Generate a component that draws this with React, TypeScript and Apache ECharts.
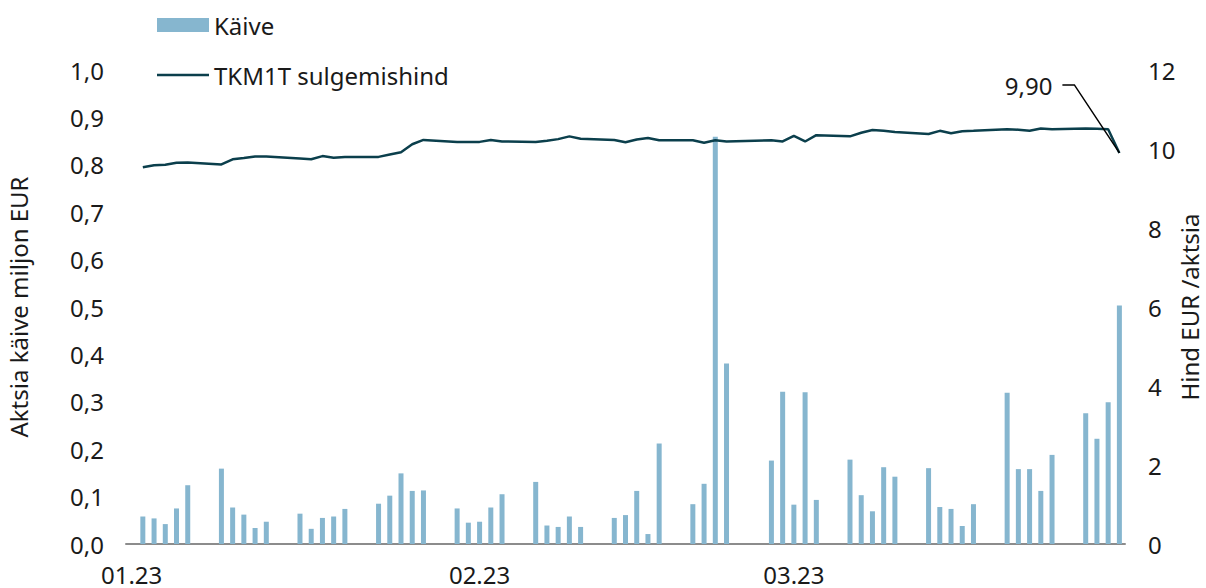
import React, { useEffect, useRef } from "react";
import * as echarts from "echarts";

const tradingDays = [
  "2023-01-02", "2023-01-03", "2023-01-04", "2023-01-05", "2023-01-06",
  "2023-01-09", "2023-01-10", "2023-01-11", "2023-01-12", "2023-01-13",
  "2023-01-16", "2023-01-17", "2023-01-18", "2023-01-19", "2023-01-20",
  "2023-01-23", "2023-01-24", "2023-01-25", "2023-01-26", "2023-01-27",
  "2023-01-30", "2023-01-31", "2023-02-01", "2023-02-02", "2023-02-03",
  "2023-02-06", "2023-02-07", "2023-02-08", "2023-02-09", "2023-02-10",
  "2023-02-13", "2023-02-14", "2023-02-15", "2023-02-16", "2023-02-17",
  "2023-02-20", "2023-02-21", "2023-02-22", "2023-02-23",
  "2023-02-27", "2023-02-28", "2023-03-01", "2023-03-02", "2023-03-03",
  "2023-03-06", "2023-03-07", "2023-03-08", "2023-03-09", "2023-03-10",
  "2023-03-13", "2023-03-14", "2023-03-15", "2023-03-16", "2023-03-17",
  "2023-03-20", "2023-03-21", "2023-03-22", "2023-03-23", "2023-03-24",
  "2023-03-27", "2023-03-28", "2023-03-29", "2023-03-30",
];

// Käive, miljon EUR
const turnover = [
  0.058, 0.054, 0.042, 0.075, 0.124,
  0.159, 0.077, 0.062, 0.034, 0.047,
  0.064, 0.032, 0.055, 0.058, 0.074,
  0.085, 0.102, 0.149, 0.112, 0.113,
  0.075, 0.045, 0.047, 0.077, 0.105,
  0.131, 0.039, 0.036, 0.058, 0.036,
  0.055, 0.061, 0.112, 0.021, 0.212,
  0.084, 0.127, 0.859, 0.381,
  0.176, 0.321, 0.083, 0.320, 0.093,
  0.178, 0.103, 0.069, 0.162, 0.142,
  0.160, 0.078, 0.074, 0.038, 0.084,
  0.319, 0.158, 0.158, 0.112, 0.188,
  0.276, 0.222, 0.299, 0.503,
];

// TKM1T sulgemishind, EUR
const closePrice = [
  9.54, 9.59, 9.60, 9.65, 9.66,
  9.61, 9.74, 9.77, 9.81, 9.81,
  9.76, 9.74, 9.82, 9.78, 9.80,
  9.80, 9.86, 9.92, 10.12, 10.23,
  10.18, 10.18, 10.18, 10.23, 10.19,
  10.18, 10.21, 10.25, 10.32, 10.26,
  10.23, 10.17, 10.24, 10.28, 10.22,
  10.22, 10.16, 10.22, 10.19,
  10.22, 10.19, 10.33, 10.19, 10.35,
  10.32, 10.41, 10.48, 10.46, 10.43,
  10.38, 10.46, 10.40, 10.45, 10.46,
  10.50, 10.49, 10.46, 10.52, 10.50,
  10.52, 10.51, 10.50, 9.90,
];

const axisStart = "2023-01-01";
const axisEnd = "2023-03-30";
const lastPriceLabel = "9,90";
const barName = "Käive";
const lineName = "TKM1T sulgemishind";

const FONT = "Noto Sans";
const TEXT = "#1a1a1a";
const BAR_COLOR = "#86b6cf";
const LINE_COLOR = "#0b3f4c";

function buildCalendar(start: string, end: string): string[] {
  const out: string[] = [];
  const [sy, sm, sd] = start.split("-").map(Number);
  const [ey, em, ed] = end.split("-").map(Number);
  const e = Date.UTC(ey, em - 1, ed);
  for (let t = Date.UTC(sy, sm - 1, sd); t <= e; t += 86400000) {
    out.push(new Date(t).toISOString().slice(0, 10));
  }
  return out;
}

export default function App() {
  const ref = useRef<HTMLDivElement>(null);
  useEffect(() => {
    document.body.style.margin = "0";
    document.body.style.overflow = "hidden";
    const chart = echarts.init(ref.current!, null, { renderer: "svg" });
    const calendar = buildCalendar(axisStart, axisEnd);
    const idx = new Map<string, number>(tradingDays.map((d, i) => [d, i]));
    const barData = calendar.map((d) => (idx.has(d) ? turnover[idx.get(d)!] : null));
    const lineData = calendar.map((d) => (idx.has(d) ? closePrice[idx.get(d)!] : null));

    const legendText = { fontFamily: FONT, fontSize: 24, color: TEXT };

    chart.setOption({
      animation: false,
      textStyle: { fontFamily: FONT, color: TEXT },
      grid: {
        left: 126,
        right: 81,
        top: 70,
        bottom: 44,
        containLabel: false,
        outerBoundsMode: "none",
      },
      legend: [
        {
          left: 152,
          top: 8,
          itemWidth: 52,
          itemHeight: 14,
          textStyle: legendText,
          data: [{ name: barName, icon: "rect" }],
        },
        {
          left: 152,
          top: 58,
          itemWidth: 52,
          itemHeight: 2.5,
          textStyle: legendText,
          data: [{ name: lineName, icon: "rect", itemStyle: { color: LINE_COLOR } }],
        },
      ],
      xAxis: {
        type: "category",
        data: calendar,
        boundaryGap: true,
        axisLine: { show: true, lineStyle: { color: "#8c8c8c", width: 2 } },
        axisTick: { show: false },
        splitLine: { show: false },
        axisLabel: {
          interval: (_i: number, val: string) => val.endsWith("-01"),
          formatter: (val: string) => val.slice(5, 7) + "." + val.slice(2, 4),
          fontFamily: FONT,
          fontSize: 24,
          color: TEXT,
          margin: 18,
        },
      },
      yAxis: [
        {
          type: "value",
          min: 0,
          max: 1,
          interval: 0.1,
          name: "Aktsia käive miljon EUR",
          nameLocation: "middle",
          nameGap: 96,
          nameTextStyle: { fontFamily: FONT, fontSize: 24, color: TEXT },
          axisLine: { show: false },
          axisTick: { show: false },
          splitLine: { show: false },
          axisLabel: {
            formatter: (v: number) => v.toFixed(1).replace(".", ","),
            fontFamily: FONT,
            fontSize: 24,
            color: TEXT,
            margin: 22,
          },
        },
        {
          type: "value",
          position: "right",
          min: 0,
          max: 12,
          interval: 2,
          name: "Hind EUR /aktsia",
          nameLocation: "middle",
          nameGap: 52,
          nameMoveOverlap: false,
          nameTextStyle: { fontFamily: FONT, fontSize: 24, color: TEXT },
          axisLine: { show: false },
          axisTick: { show: false },
          splitLine: { show: false },
          axisLabel: {
            fontFamily: FONT,
            fontSize: 24,
            color: TEXT,
            margin: 23,
          },
        },
      ],
      series: [
        {
          name: barName,
          type: "bar",
          yAxisIndex: 0,
          data: barData,
          barWidth: 5,
          itemStyle: { color: BAR_COLOR },
        },
        {
          name: lineName,
          type: "line",
          yAxisIndex: 1,
          data: lineData,
          connectNulls: true,
          symbol: "none",
          showSymbol: false,
          lineStyle: { color: LINE_COLOR, width: 2.5 },
          itemStyle: { color: LINE_COLOR },
          z: 3,
        },
      ],
    });

    const lastDay = tradingDays[tradingDays.length - 1];
    const lastVal = closePrice[closePrice.length - 1];
    const pt = chart.convertToPixel({ xAxisIndex: 0, yAxisIndex: 1 }, [lastDay, lastVal]) as number[];
    if (pt && isFinite(pt[0])) {
      const [px, py] = pt;
      chart.setOption({
        graphic: [
          {
            type: "polyline",
            shape: { points: [[px - 57, py - 68], [px - 45, py - 68], [px, py]] },
            style: { stroke: "#000", lineWidth: 1.5, fill: null },
            z: 10,
          },
          {
            type: "text",
            x: px - 67,
            y: py - 67,
            style: {
              text: lastPriceLabel,
              fontFamily: FONT,
              fontSize: 24,
              fill: TEXT,
              align: "right",
              verticalAlign: "middle",
            },
            z: 10,
          },
        ],
      });
    }

    return () => chart.dispose();
  }, []);
  return <div ref={ref} style={{ width: 1206, height: 588 }} />;
}
